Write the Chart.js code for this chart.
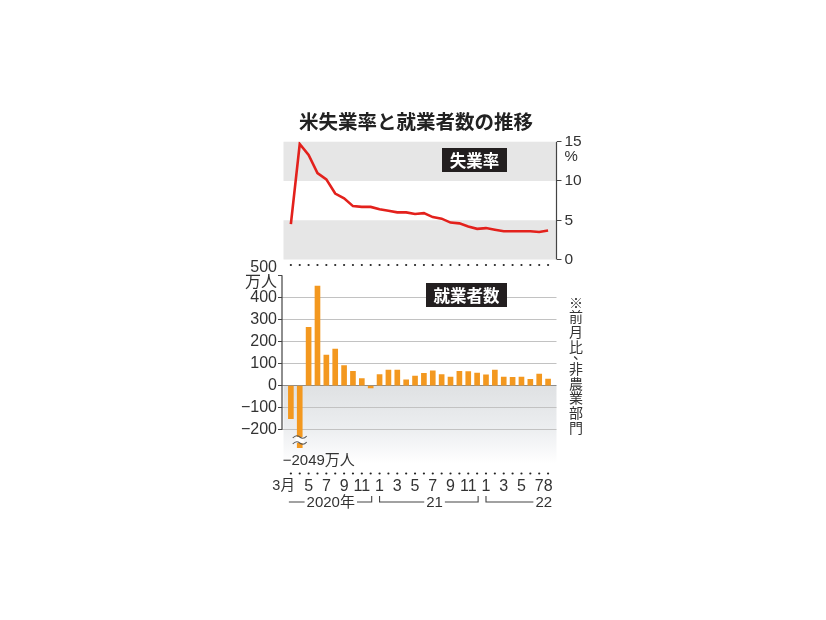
<!DOCTYPE html>
<html>
<head>
<meta charset="utf-8">
<script src="https://cdn.jsdelivr.net/npm/chart.js@4.4.0/dist/chart.umd.min.js"></script>
<style>
  html, body { margin: 0; padding: 0; background: #fff; }
  #chart { display: block; }
</style>
</head>
<body>
<canvas id="chart" width="826" height="620"></canvas>
<script>
// 2020年3月〜2022年8月
const monthTicks = ['3月','','5','','7','','9','','11','','1','','3','','5','','7','','9','','11','','1','','3','','5','','7','8'];
// 失業率 (%)
const unemployment = [4.5, 14.7, 13.3, 11.0, 10.2, 8.4, 7.8, 6.8, 6.7, 6.7, 6.4, 6.2, 6.0, 6.0, 5.8, 5.9, 5.4, 5.2, 4.7, 4.6, 4.2, 3.9, 4.0, 3.8, 3.6, 3.6, 3.6, 3.6, 3.5, 3.7];
// 就業者数 前月比 (万人)
const payrolls = [-150, -2049, 264, 451, 138, 165, 91, 65, 32, -11, 50, 70, 70, 26, 43, 55, 67, 50, 39, 65, 63, 57, 49, 70, 38, 37, 38, 28, 52, 30];
const rateTicks = [0, 5, 10, 15];
const jobTicks = [-200, -100, 0, 100, 200, 300, 400, 500];
const yearGroups = [
  { text: '2020年', from: 0, to: 9, at: 4.5 },
  { text: '21', from: 10, to: 21, at: 16.2 },
  { text: '22', from: 22, to: 29, at: null }
];

const NUM_FONT = "'Liberation Sans', 'Noto Sans CJK JP', sans-serif";
const JP_FONT = "'Noto Sans CJK JP', sans-serif";
const INK = '#333';

function minus(v) {
  return v < 0 ? '\u2212' + Math.abs(v) : String(v);
}

const decor = {
  id: 'decor',
  beforeDraw(chart) {
    const { ctx, chartArea: a, scales } = chart;
    const rate = scales.rate, jobs = scales.jobs;
    const L = a.left + 1.5, R = a.right;
    ctx.save();
    // 失業率の背景帯
    ctx.fillStyle = '#e6e6e6';
    ctx.fillRect(L, rate.getPixelForValue(15), R - L, rate.getPixelForValue(10) - rate.getPixelForValue(15));
    ctx.fillRect(L, rate.getPixelForValue(5), R - L, rate.getPixelForValue(0) - rate.getPixelForValue(5));
    // マイナス領域
    const z = jobs.getPixelForValue(0);
    const g = ctx.createLinearGradient(0, z, 0, z + 78);
    g.addColorStop(0, '#dfe1e3');
    g.addColorStop(0.55, '#eceef0');
    g.addColorStop(1, '#ffffff');
    ctx.fillStyle = g;
    ctx.fillRect(L, z, R - L, 78);
    ctx.restore();
  },
  afterDraw(chart) {
    const { ctx, chartArea: a, scales } = chart;
    const x = scales.x, rate = scales.rate, jobs = scales.jobs;
    ctx.save();

    // title
    ctx.fillStyle = '#222';
    ctx.font = "bold 19.5px " + JP_FONT;
    ctx.textAlign = 'center';
    ctx.textBaseline = 'middle';
    ctx.fillText('米失業率と就業者数の推移', 416, 122);

    // label boxes
    const box = (txt, x0, y0, w, h) => {
      ctx.fillStyle = '#231f20';
      ctx.fillRect(x0, y0, w, h);
      ctx.fillStyle = '#fff';
      ctx.font = "bold 16.5px " + JP_FONT;
      ctx.fillText(txt, x0 + w / 2, y0 + h / 2 + 1);
    };
    box('失業率', 442, 148, 65, 24);
    box('就業者数', 426, 283, 81, 24);

    // dotted rows
    ctx.fillStyle = '#222';
    for (let i = 0; i < monthTicks.length; i++) {
      const px = x.getPixelForValue(i);
      ctx.beginPath(); ctx.arc(px, 265, 1.1, 0, Math.PI * 2); ctx.fill();
      ctx.beginPath(); ctx.arc(px, 473.5, 1.1, 0, Math.PI * 2); ctx.fill();
    }

    // axis lines
    ctx.strokeStyle = '#444';
    ctx.lineWidth = 1.2;
    ctx.beginPath();
    ctx.moveTo(a.left, jobs.getPixelForValue(500));
    ctx.lineTo(a.left, jobs.getPixelForValue(-200));
    ctx.moveTo(a.right, rate.getPixelForValue(15));
    ctx.lineTo(a.right, rate.getPixelForValue(0));
    ctx.stroke();

    // % unit
    ctx.fillStyle = INK;
    ctx.font = "15px " + NUM_FONT;
    ctx.textAlign = 'left';
    ctx.fillText('%', a.right + 8, rate.getPixelForValue(15) + 15);

    // vertical note
    ctx.font = "14px " + JP_FONT;
    ctx.textAlign = 'center';
    let ny = 302.5;
    for (const ch of '※前月比、非農業部門') {
      if (ch === '、') {
        ctx.fillText(ch, 580, ny - 7);
        ny += 8;
      } else {
        ctx.fillText(ch, 576, ny);
        ny += 14.6;
      }
    }

    // break mark on the April 2020 bar
    const bx = x.getPixelForValue(1);
    const by = a.bottom - 8;
    ctx.fillStyle = '#fff';
    ctx.fillRect(bx - 4, by - 3, 8, 6);
    ctx.strokeStyle = '#555';
    ctx.lineWidth = 1.1;
    for (const dy of [-3, 3]) {
      ctx.beginPath();
      ctx.moveTo(bx - 7, by + dy + 1);
      ctx.quadraticCurveTo(bx - 3.5, by + dy - 3, bx, by + dy);
      ctx.quadraticCurveTo(bx + 3.5, by + dy + 3, bx + 7, by + dy - 1);
      ctx.stroke();
    }
    ctx.fillStyle = INK;
    ctx.font = "15px " + NUM_FONT;
    ctx.textAlign = 'left';
    ctx.fillText(minus(payrolls[1]) + '万人', bx - 17, 461);

    // year row
    const yy = 502;
    ctx.strokeStyle = '#444';
    ctx.lineWidth = 1.1;
    ctx.font = "15px " + NUM_FONT;
    ctx.textAlign = 'center';
    yearGroups.forEach((gp, k) => {
      const x0 = x.getPixelForValue(gp.from) - (k === 0 ? 2 : 0);
      const x1 = x.getPixelForValue(gp.to) + (k === 2 ? 4 : 1);
      const tw = ctx.measureText(gp.text).width;
      const tc = gp.at === null ? x1 - tw / 2 : x.getPixelForValue(gp.at);
      ctx.fillText(gp.text, tc, yy + 1);
      ctx.beginPath();
      if (k > 0) { ctx.moveTo(x0, yy - 6); ctx.lineTo(x0, yy); } else { ctx.moveTo(x0, yy); }
      ctx.lineTo(tc - tw / 2 - 2, yy);
      if (gp.at !== null) {
        ctx.moveTo(tc + tw / 2 + 2, yy);
        ctx.lineTo(x1, yy);
        ctx.lineTo(x1, yy - 6);
      }
      ctx.stroke();
    });

    ctx.restore();
  }
};

const ctx = document.getElementById('chart').getContext('2d');
new Chart(ctx, {
  data: {
    datasets: [
      {
        type: 'line',
        data: unemployment.map((v, i) => ({ x: i, y: v })),
        yAxisID: 'rate',
        borderColor: '#e3211c',
        borderWidth: 2.6,
        pointRadius: 0,
        tension: 0,
        order: 0
      },
      {
        type: 'bar',
        data: payrolls.map((v, i) => ({ x: i, y: v })),
        yAxisID: 'jobs',
        backgroundColor: '#f3981f',
        barThickness: 5,
        order: 1
      }
    ]
  },
  options: {
    responsive: false,
    animation: false,
    layout: { padding: { top: 141.7 } },
    plugins: { legend: { display: false }, tooltip: { enabled: false } },
    scales: {
      x: {
        type: 'linear',
        offset: false,
        min: -1.0,
        max: 29.95,
        grid: { display: false, drawTicks: false, offset: false },
        border: { display: false },
        afterBuildTicks: s => { s.ticks = monthTicks.map((_, i) => ({ value: i })); },
        afterFit: s => { s.height = 620 - 448; },
        ticks: {
          autoSkip: false, maxRotation: 0, padding: 29,
          color: INK,
          font: c => ({ family: NUM_FONT, size: c.index === 0 ? 14.5 : 16 }),
          // 「3月」は目盛りの左に寄せる
          callback: v => v === 0 ? monthTicks[v] + '\u2003' : monthTicks[v]
        }
      },
      jobs: {
        type: 'linear',
        position: 'left',
        min: -283,
        max: 1105.6,
        afterBuildTicks: s => { s.ticks = jobTicks.map(v => ({ value: v })); },
        afterFit: s => { s.width = 282; },
        border: { display: false },
        grid: {
          color: c => c.tick.value === 500 ? 'rgba(0,0,0,0)' : (c.tick.value === 0 ? '#8c8c8c' : '#c2c2c2'),
          tickColor: '#444',
          tickLength: 4,
          lineWidth: 1
        },
        ticks: {
          padding: 1, color: INK,
          font: { family: NUM_FONT, size: 16, lineHeight: 0.95 },
          callback: v => v === 500 ? ['500', '万人'] : minus(v)
        }
      },
      rate: {
        type: 'linear',
        position: 'right',
        min: -24,
        max: 15,
        afterBuildTicks: s => { s.ticks = rateTicks.map(v => ({ value: v })); },
        afterFit: s => { s.width = 826 - 556.5; },
        border: { display: false },
        grid: { drawOnChartArea: false, tickColor: '#444', tickLength: 5 },
        ticks: { padding: 3, color: INK, font: { family: NUM_FONT, size: 15.5 } }
      }
    }
  },
  plugins: [decor]
});
</script>
</body>
</html>
